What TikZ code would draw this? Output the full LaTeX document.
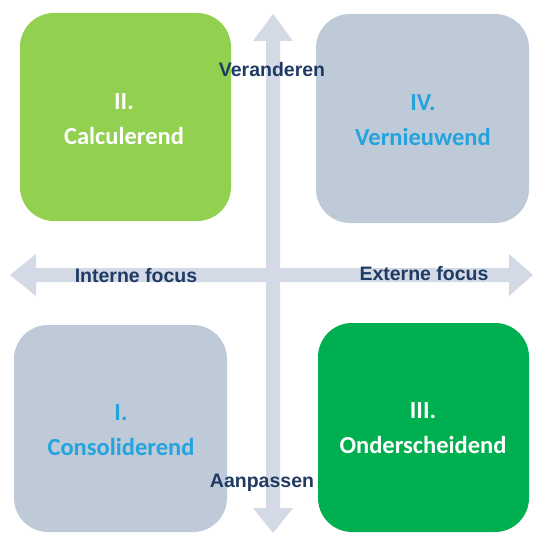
\documentclass[tikz,border=0pt]{standalone}
\usepackage{fontspec}
\setmainfont{Liberation Sans}
\newfontfamily\boxfont{Carlito}
\definecolor{arrowc}{HTML}{D3D9E5}
\definecolor{lightgreen}{HTML}{92D050}
\definecolor{darkgreen}{HTML}{00B050}
\definecolor{boxgrey}{HTML}{BECAD7}
\definecolor{navy}{HTML}{1F3A63}
\definecolor{lightblue}{HTML}{24A3DE}
\begin{document}
\begin{tikzpicture}[x=1pt,y=-1pt,
  quad/.style={rounded corners=34pt, draw=none},
  boxlabel/.style={font=\boxfont\bfseries\fontsize{24.5}{29}\selectfont, align=center, inner sep=0pt},
  axislabel/.style={font=\bfseries\fontsize{19.5}{22}\selectfont, text=navy, inner sep=1pt}]
\useasboundingbox (0,0) rectangle (533,540);
% quadrant boxes
\fill[quad, lightgreen] (20,13) rectangle (231,221);
\fill[quad, boxgrey] (316,14) rectangle (529,223);
\fill[quad, boxgrey] (14,325) rectangle (227,532);
\fill[quad, darkgreen] (318,323) rectangle (529,532);
% axes (double arrows)
\fill[arrowc] (273,14) -- (293,41) -- (280,41) -- (280,508) -- (293,508) -- (273,533)
  -- (253,508) -- (266,508) -- (266,41) -- (253,41) -- cycle;
\fill[arrowc] (10,275) -- (36,254) -- (36,268) -- (509,268) -- (509,254) -- (533,275)
  -- (509,296) -- (509,282) -- (36,282) -- (36,296) -- cycle;
% box texts
\node[boxlabel, text=white] (q2) at (124,119) {II.\\[6pt]Calculerend};
\node[boxlabel, text=lightblue] (q4) at (423,120) {IV.\\[6pt]Vernieuwend};
\node[boxlabel, text=lightblue] (q1) at (121,430) {I.\\[6pt]Consoliderend};
\node[boxlabel, text=white] (q3) at (423,428) {III.\\[6pt]Onderscheidend};
% axis labels
\node[axislabel] (top) at (272,70) {Veranderen};
\node[axislabel] (left) at (136,276) {Interne focus};
\node[axislabel] (right) at (424,274) {Externe focus};
\node[axislabel] (bottom) at (262,483) {Aanpassen};
\end{tikzpicture}
\end{document}
